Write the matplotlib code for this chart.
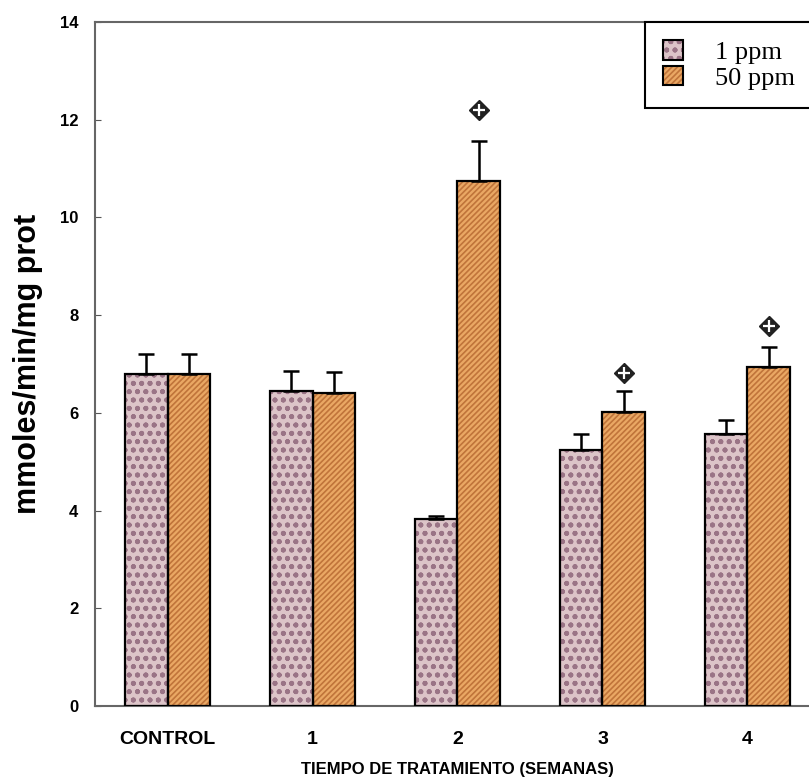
import numpy as np
import matplotlib
matplotlib.use("Agg")
from matplotlib import pyplot as plt
from matplotlib.patches import Patch

categories = ["CONTROL", "1", "2", "3", "4"]
vals_1ppm = [6.80, 6.44, 3.82, 5.23, 5.56]
err_1ppm = [0.40, 0.42, 0.06, 0.34, 0.30]
vals_50ppm = [6.80, 6.40, 10.74, 6.02, 6.94]
err_50ppm = [0.40, 0.43, 0.82, 0.42, 0.40]
sig_idx = [2, 3, 4]            # groups marked with the symbol
sig_y = [12.19, 6.82, 7.78]    # symbol heights

plt.rcParams['font.family'] = ['Liberation Sans', 'DejaVu Sans']
plt.rcParams['hatch.linewidth'] = 1.2

fig = plt.figure(figsize=(8.09, 7.79), dpi=100)
ax = fig.add_axes([95/809, 1-706/779, (820-95)/809, (706-22)/779])

x = np.arange(len(categories))
bw = 0.29
face1, hatch1 = '#dcc4c8', '#9a7486'
face2, hatch2 = '#eaa864', '#c0743a'

ax.bar(x-bw/2, vals_1ppm, bw, color=face1, edgecolor=hatch1, hatch='oo..', linewidth=0, zorder=2)
ax.bar(x+bw/2, vals_50ppm, bw, color=face2, edgecolor=hatch2, hatch='//////', linewidth=0, zorder=2)
ax.bar(x-bw/2, vals_1ppm, bw, fill=False, edgecolor='black', linewidth=1.6, zorder=3)
ax.bar(x+bw/2, vals_50ppm, bw, fill=False, edgecolor='black', linewidth=1.6, zorder=3)

ax.errorbar(x-bw/2, vals_1ppm, yerr=[np.zeros(len(x)), err_1ppm], fmt='none',
            ecolor='black', elinewidth=1.8, capsize=6, capthick=1.8, zorder=4)
ax.errorbar(x+bw/2, vals_50ppm, yerr=[np.zeros(len(x)), err_50ppm], fmt='none',
            ecolor='black', elinewidth=1.8, capsize=6, capthick=1.8, zorder=4)

sx = np.array(sig_idx)+bw/2
ax.plot(sx, sig_y, linestyle='none', marker='D', markersize=10, color='#222222', zorder=5)
ax.plot(sx, sig_y, linestyle='none', marker='+', markersize=8, mew=1.6, color='white', zorder=6)

ax.set_xlim(-0.5, 4.5)
ax.set_ylim(0, 14)
ax.set_yticks(np.arange(0, 15, 2))
ax.set_xticks(x)
ax.set_xticklabels(categories, fontsize=14, fontweight='bold')
ax.tick_params(axis='y', direction='in', length=4, labelsize=12, pad=12, color='#555555')
ax.tick_params(axis='x', length=0, pad=18)
for lab in ax.get_yticklabels():
    lab.set_fontweight('bold')

for s in ['left', 'bottom', 'top']:
    ax.spines[s].set_color('#666666')
    ax.spines[s].set_linewidth(1.5)
ax.spines['right'].set_visible(False)

ax.set_ylabel('mmoles/min/mg prot', fontsize=22, fontweight='bold', labelpad=12)
ax.set_xlabel('TIEMPO DE TRATAMIENTO (SEMANAS)', fontsize=12, fontweight='bold', labelpad=10)

h1 = (Patch(facecolor=face1, edgecolor=hatch1, hatch='oo..', linewidth=0),
      Patch(fill=False, edgecolor='black', linewidth=1.5))
h2 = (Patch(facecolor=face2, edgecolor=hatch2, hatch='//////', linewidth=0),
      Patch(fill=False, edgecolor='black', linewidth=1.5))
leg = fig.legend([h1, h2], ['1 ppm', '50 ppm'], loc='upper left',
                 bbox_to_anchor=(645/809, 1-22/779), borderaxespad=0,
                 prop={'family': 'Liberation Serif', 'size': 19},
                 fancybox=False, edgecolor='black', framealpha=1,
                 handlelength=0.75, handleheight=0.75, handletextpad=1.2,
                 labelspacing=0.05, borderpad=0.7)
leg.get_frame().set_linewidth(1.5)
for t in leg.get_texts():
    t.set_horizontalalignment('right')

fig.savefig('out.png', dpi=100)
